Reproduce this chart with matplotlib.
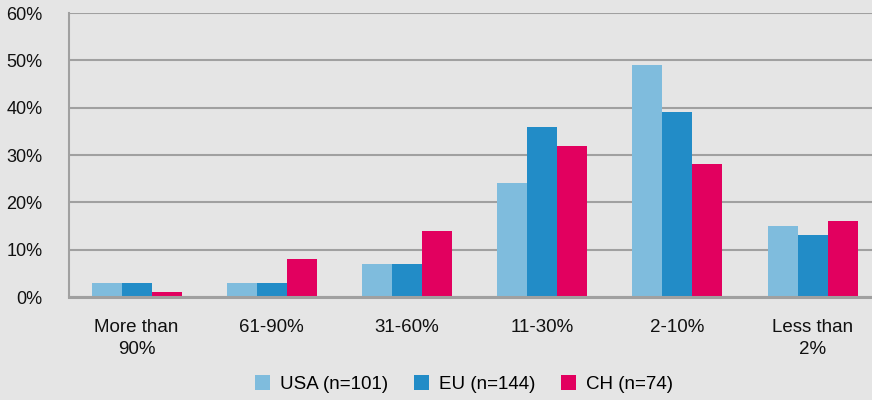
import numpy as np
import matplotlib.pyplot as plt
from matplotlib.ticker import FuncFormatter

categories = ["More than\n90%", "61-90%", "31-60%", "11-30%", "2-10%", "Less than\n2%"]
usa = [3, 3, 7, 24, 49, 15]
eu = [3, 3, 7, 36, 39, 13]
ch = [1, 8, 14, 32, 28, 16]
series_names = ["USA (n=101)", "EU (n=144)", "CH (n=74)"]
colors = ["#7fbcdd", "#228cc7", "#e2005f"]

plt.rcParams['font.family'] = ['Liberation Sans', 'DejaVu Sans']

bg = "#e5e5e5"
gridc = "#a0a0a0"

fig = plt.figure(figsize=(8.72, 4.0), dpi=100, facecolor=bg)
ax = fig.add_axes([69/872, 1 - 297/400, (872 - 69)/872, 284/400])
ax.set_facecolor(bg)

x = np.arange(len(categories))
w = 0.222
for i, (vals, name, c) in enumerate(zip([usa, eu, ch], series_names, colors)):
    ax.bar(x + (i - 1) * w, vals, width=w, color=c, label=name, zorder=3)

ax.set_xlim(-0.5, 5.44)
ax.set_ylim(0, 60)
ax.set_yticks(range(0, 61, 10))
ax.yaxis.set_major_formatter(FuncFormatter(lambda v, p: f"{int(v)}%"))
ax.grid(axis='y', color=gridc, linewidth=1.5, zorder=0)
ax.set_xticks(x)
ax.set_xticklabels(categories, fontsize=13.5, linespacing=1.4)
ax.tick_params(length=0, colors="#111111")
ax.tick_params(axis='y', pad=19, labelsize=13)
ax.tick_params(axis='x', pad=16)

for s in ['top', 'right']:
    ax.spines[s].set_visible(False)
ax.spines['left'].set_color(gridc)
ax.spines['left'].set_linewidth(1.5)
ax.spines['bottom'].set_color(gridc)
ax.spines['bottom'].set_linewidth(2.2)
ax.spines['left'].set_zorder(4)
ax.spines['bottom'].set_zorder(4)

fig.legend(loc='center', bbox_to_anchor=(464/872, 1 - 384/400), ncol=3, frameon=False,
           fontsize=13.5, handlelength=0.8, handleheight=0.8, columnspacing=1.4,
           handletextpad=0.5)

fig.savefig("out.png", dpi=100, facecolor=bg)
